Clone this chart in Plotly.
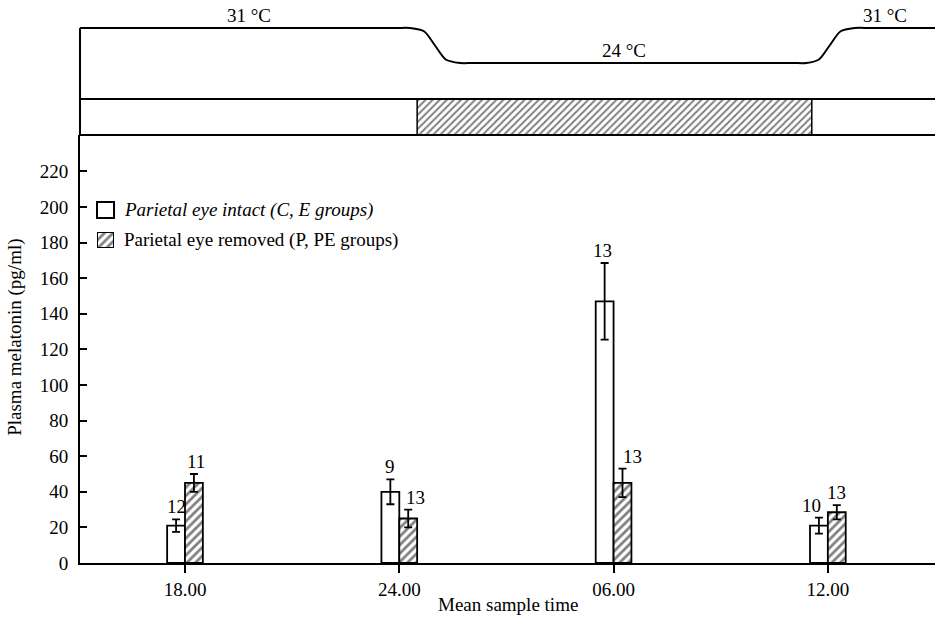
import plotly.graph_objects as go

# ---- data ----
sample_times = ["18.00", "24.00", "06.00", "12.00"]
sample_hours = [0, 6, 12, 18]          # hours after 18.00
intact_mean = [21, 40, 147, 21]
intact_err = [3.5, 7, 21.5, 4.5]
intact_n = [12, 9, 13, 10]
removed_mean = [45, 25, 45, 28.5]
removed_err = [5, 5, 8, 4]
removed_n = [11, 13, 13, 13]
y_ticks = [0, 20, 40, 60, 80, 100, 120, 140, 160, 180, 200, 220]
legend_names = ["Parietal eye intact (C, E groups)", "Parietal eye removed (P, PE groups)"]

# temperature profile (hours after 18.00, deg C)
temp_hours = [-3.0, 5.9, 6.3, 6.7, 7.0, 7.3, 7.7, 8.1, 17.0, 17.4, 17.75, 18.05, 18.35, 18.75, 19.2, 21.1]
temp_vals = [31, 31, 31, 30.3, 27.5, 24.7, 24, 24, 24, 24, 24.7, 27.5, 30.3, 31, 31, 31]
temp_labels = [(1.8, 31, "31 °C"), (12.3, 24, "24 °C"), (19.6, 31, "31 °C")]
dark_start, dark_end = 6.5, 17.55

FONT = "Liberation Serif"
FS = 19
X_RANGE = [-2.94, 21.0]
Y_RANGE = [0, 240.4]
T_RANGE = [16.8, 36.6]
PAT = dict(shape="/", fgcolor="black", bgcolor="white", size=6, solidity=0.45)

fig = go.Figure()

fig.add_trace(go.Bar(
    x=sample_hours, y=intact_mean, width=0.5, offset=-0.5,
    marker=dict(color="white", line=dict(color="black", width=1.8)),
    error_y=dict(type="data", array=intact_err, color="black", thickness=1.8, width=4),
    name=legend_names[0], xaxis="x", yaxis="y", showlegend=False))
fig.add_trace(go.Bar(
    x=sample_hours, y=removed_mean, width=0.5, offset=0,
    marker=dict(color="white", line=dict(color="black", width=1.8), pattern=PAT),
    error_y=dict(type="data", array=removed_err, color="black", thickness=1.8, width=4),
    name=legend_names[1], xaxis="x", yaxis="y", showlegend=False))

# temperature line
fig.add_trace(go.Scatter(
    x=temp_hours, y=temp_vals, mode="lines",
    line=dict(color="black", width=2, shape="spline", smoothing=0.7),
    xaxis="x", yaxis="y2", showlegend=False, hoverinfo="skip"))

# dark period bar
fig.add_trace(go.Bar(
    x=[(dark_start + dark_end) / 2], y=[1], width=[dark_end - dark_start], base=0,
    marker=dict(color="white", line=dict(color="black", width=1.5),
                pattern=dict(shape="/", fgcolor="black", bgcolor="white", size=5, solidity=0.4)),
    xaxis="x", yaxis="y3", showlegend=False, hoverinfo="skip"))

# legend swatch for hatched series (small bar on its own axes)
fig.add_trace(go.Bar(
    x=[0], y=[1], width=[1], base=0,
    marker=dict(color="white", line=dict(color="black", width=2),
                pattern=dict(shape="/", fgcolor="black", bgcolor="white", size=6, solidity=0.45)),
    xaxis="x2", yaxis="y4", showlegend=False, hoverinfo="skip"))

tf = dict(family=FONT, size=FS, color="black")
annotations = []
# n labels
intact_shift = [0, 0, -2, -7]
removed_shift = [2, 7, 10, 0]
for i, h in enumerate(sample_hours):
    annotations.append(dict(x=h - 0.25, y=intact_mean[i] + intact_err[i], xref="x", yref="y",
                            text=str(intact_n[i]), showarrow=False, yanchor="bottom",
                            yshift=0, xshift=intact_shift[i], font=tf))
    annotations.append(dict(x=h + 0.25, y=removed_mean[i] + removed_err[i], xref="x", yref="y",
                            text=str(removed_n[i]), showarrow=False, yanchor="bottom",
                            yshift=0, xshift=removed_shift[i], font=tf))
for (tx, ty, tt) in temp_labels:
    annotations.append(dict(x=tx, y=ty, xref="x", yref="y2", text=tt, showarrow=False,
                            yanchor="bottom", yshift=0, font=tf))
# legend texts
annotations.append(dict(x=0.0491, y=0.627, xref="paper", yref="paper", text="<i>" + legend_names[0] + "</i>",
                        showarrow=False, xanchor="left", yanchor="middle", font=tf))
annotations.append(dict(x=0.0491, y=0.5737, xref="paper", yref="paper", text=legend_names[1],
                        showarrow=False, xanchor="left", yanchor="middle", font=tf))
# axis titles
annotations.append(dict(x=0.5, y=-0.0746, xref="paper", yref="paper", text="Mean sample time",
                        showarrow=False, xanchor="center", yanchor="middle", font=tf))
annotations.append(dict(x=-0.076, y=0.40, xref="paper", yref="paper", text="Plasma melatonin (pg/ml)",
                        showarrow=False, xanchor="center", yanchor="middle", textangle=-90, font=tf))

shapes = [
    # left edge of top panel
    dict(type="line", xref="paper", yref="y2", x0=0, x1=0, y0=T_RANGE[0], y1=31,
         line=dict(color="black", width=2)),
    dict(type="line", xref="paper", yref="y3 domain", x0=0, x1=0, y0=0, y1=1,
         line=dict(color="black", width=2)),
    # light box lines
    dict(type="line", xref="paper", yref="y3 domain", x0=0, x1=1, y0=1, y1=1,
         line=dict(color="black", width=1.8)),
    dict(type="line", xref="paper", yref="y3 domain", x0=0, x1=1, y0=0, y1=0,
         line=dict(color="black", width=1.8)),
    # legend swatch for intact series
    dict(type="rect", xref="paper", yref="paper", x0=0.0199, x1=0.0398, y0=0.6128, y1=0.6412,
         line=dict(color="black", width=2), fillcolor="white"),
]

fig.update_layout(
    width=935, height=619,
    margin=dict(l=80, r=0, t=0, b=56, autoexpand=False),
    paper_bgcolor="white", plot_bgcolor="white",
    barmode="overlay",
    font=tf,
    xaxis=dict(range=X_RANGE, tickvals=sample_hours, ticktext=sample_times,
               showline=True, linecolor="black", linewidth=2, ticks="outside",
               ticklen=8, tickwidth=1.5, tickcolor="black", showgrid=False, zeroline=False,
               anchor="y", automargin=False, tickfont=tf),
    yaxis=dict(domain=[0, 0.7602], range=Y_RANGE, tickvals=y_ticks,
               showline=True, linecolor="black", linewidth=2, ticks="inside",
               ticklen=7, tickwidth=1.5, tickcolor="black", showgrid=False, zeroline=False,
               anchor="x", automargin=False, ticklabelstandoff=6, tickfont=tf),
    yaxis2=dict(domain=[0.8242, 1.0], range=T_RANGE, visible=False, anchor="x"),
    yaxis3=dict(domain=[0.7602, 0.8242], range=[0, 1], visible=False, anchor="x"),
    xaxis2=dict(domain=[0.0199, 0.0398], range=[-0.5, 0.5], visible=False, anchor="y4"),
    yaxis4=dict(domain=[0.5595, 0.5879], range=[0, 1], visible=False, anchor="x2"),
    annotations=annotations, shapes=shapes,
)

fig.write_html("out.html", config={"displayModeBar": False},
               post_script="document.body.style.margin='0';document.body.style.overflow='hidden';")
